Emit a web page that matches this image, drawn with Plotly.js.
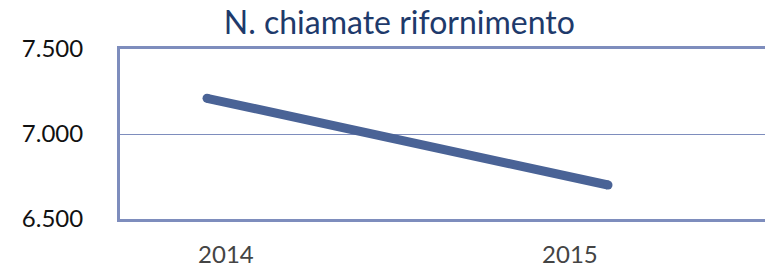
<!DOCTYPE html>
<html><head><meta charset="utf-8">
<script src="https://cdn.plot.ly/plotly-3.0.1.min.js"></script>
<style>html,body{margin:0;padding:0;background:#fff}#c{width:765px;height:274px}</style>
</head><body><div id="c"></div>
<script>
const titleText = "N. chiamate rifornimento";
const years = ["2014", "2015"];
const chiamate = [7210, 6700];
const yTicks = [6500, 7000, 7500];

const lineColor = "#4a6396";
const frameColor = "#7e8dbd";

const traces = [
  {
    x: years, y: chiamate, type: "scatter", mode: "lines+markers",
    line: {color: lineColor, width: 9},
    marker: {color: lineColor, size: 9},
    xaxis: "x", yaxis: "y", hoverinfo: "skip", showlegend: false
  },
  {
    x: years, y: chiamate, type: "scatter", mode: "none",
    xaxis: "x2", yaxis: "y", hoverinfo: "skip", showlegend: false
  }
];

const layout = {
  width: 765, height: 274,
  margin: {l: 120, r: 0, t: 49, b: 55},
  paper_bgcolor: "#fff", plot_bgcolor: "#fff",
  separators: ",.",
  font: {family: "Lato, 'Open Sans', sans-serif", color: "#222"},
  title: {
    text: titleText, x: 0.522, xanchor: "center", y: 0.915, yanchor: "middle",
    font: {size: 32, color: "#1e3a6b", family: "Lato, sans-serif"}
  },
  xaxis: {
    type: "category", categoryarray: years, range: [-0.217, 1.3915],
    showticklabels: false, ticks: "", showgrid: false, zeroline: false,
    showline: true, linecolor: frameColor, linewidth: 3, mirror: true
  },
  xaxis2: {
    type: "category", categoryarray: years, range: [-0.308, 1.567],
    overlaying: "x", side: "bottom", showgrid: false, zeroline: false, showline: false,
    ticks: "outside", ticklen: 14, tickcolor: "rgba(0,0,0,0)",
    tickfont: {size: 24, color: "#444", family: "Lato, sans-serif"}
  },
  yaxis: {
    range: [6500, 7500], tickvals: yTicks, tickformat: ",.0f",
    showgrid: true, gridcolor: frameColor, gridwidth: 1,
    zeroline: false, showline: true, linecolor: frameColor, linewidth: 3,
    ticks: "outside", ticklen: 29, tickcolor: "rgba(0,0,0,0)",
    tickfont: {size: 24, color: "#111", family: "Lato, sans-serif"}
  }
};

Plotly.newPlot("c", traces, layout, {displayModeBar: false, staticPlot: true});
</script></body></html>
